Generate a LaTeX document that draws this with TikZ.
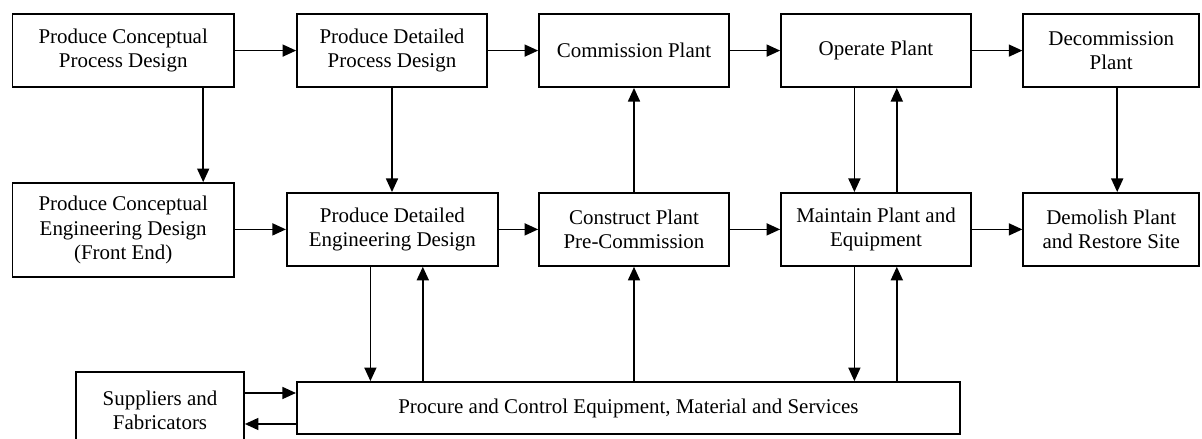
\documentclass[tikz,border=0pt]{standalone}
\usepackage{fontspec}
\setmainfont{Liberation Serif}
\usetikzlibrary{arrows.meta}

\begin{document}
\begin{tikzpicture}[x=1cm,y=1cm,
    box/.style={draw, line width=1.2pt, align=center, inner sep=0pt,
        minimum width=4.75cm, minimum height=1.825cm,
        font=\fontsize{14.9}{17.1}\selectfont},
    arr/.style={line width=1.2pt, -{Triangle[length=0.34cm,width=0.3cm]}}]
        \useasboundingbox (0,0) rectangle (30.05,10.975);
        % top row
        \node[box,minimum width=5.54cm] (pcpd) at (3.08,9.71) {Produce Conceptual\\Process Design};
        \node[box] (pdpd) at (9.8,9.71) {Produce Detailed\\Process Design};
        \node[box] (comm) at (15.85,9.71) {Commission Plant};
        \node[box] (oper) at (21.9,9.71) {Operate Plant};
        \node[box,minimum width=4.4cm] (decomm) at (27.78,9.71) {Decommission\\Plant};
        % middle row
        \node[box,minimum width=5.54cm,minimum height=2.35cm] (pced) at (3.08,5.225) {Produce Conceptual\\Engineering Design\\(Front End)};
        \node[box,minimum width=5.28cm] (pded) at (9.81,5.24) {Produce Detailed\\Engineering Design};
        \node[box] (constr) at (15.85,5.24) {Construct Plant\\Pre-Commission};
        \node[box] (maint) at (21.9,5.24) {Maintain Plant and\\Equipment};
        \node[box,minimum width=4.4cm] (demol) at (27.78,5.24) {Demolish Plant\\and Restore Site};
        % bottom row
        \node[box,minimum width=4.2cm,minimum height=1.925cm] (suppl) at (4.0,0.7125) {Suppliers and\\Fabricators};
        \node[box,minimum width=16.58cm,minimum height=1.3cm] (procure) at (15.71,0.775) {Procure and Control Equipment, Material and Services};
        % arrows along the rows
        \draw[arr] (pcpd) -- (pdpd);
        \draw[arr] (pdpd) -- (comm);
        \draw[arr] (comm) -- (oper);
        \draw[arr] (oper) -- (decomm);
        \draw[arr] (pced.east |- pded.east) -- (pded.west);
        \draw[arr] (pded) -- (constr);
        \draw[arr] (constr) -- (maint);
        \draw[arr] (maint) -- (demol);
        % arrows between the rows
        \draw[arr] ([xshift=2cm]pcpd.south) -- ([xshift=2cm]pcpd.south |- pced.north);
        \draw[arr] (pdpd.south) -- (pdpd.south |- pded.north);
        \draw[arr] (constr.north) -- (comm.south);
        \draw[arr] ([xshift=-0.54cm]oper.south) -- ([xshift=-0.54cm]maint.north);
        \draw[arr] ([xshift=0.52cm]maint.north) -- ([xshift=0.52cm]oper.south);
        \draw[arr] ([xshift=0.15cm]decomm.south) -- ([xshift=0.15cm]demol.north);
        % arrows to and from procurement
        \draw[arr] ([xshift=-0.55cm]pded.south) -- ([xshift=-0.55cm]pded.south |- procure.north);
        \draw[arr] ([xshift=0.76cm]pded.south |- procure.north) -- ([xshift=0.76cm]pded.south);
        \draw[arr] (constr.south |- procure.north) -- (constr.south);
        \draw[arr] ([xshift=-0.54cm]maint.south) -- ([xshift=-0.54cm]maint.south |- procure.north);
        \draw[arr] ([xshift=0.52cm]maint.south |- procure.north) -- ([xshift=0.52cm]maint.south);
        \draw[arr] (suppl.east |- 0,1.15) -- (procure.west |- 0,1.15);
        \draw[arr] (procure.west |- 0,0.375) -- (suppl.east |- 0,0.375);
    \end{tikzpicture}
\end{document}
